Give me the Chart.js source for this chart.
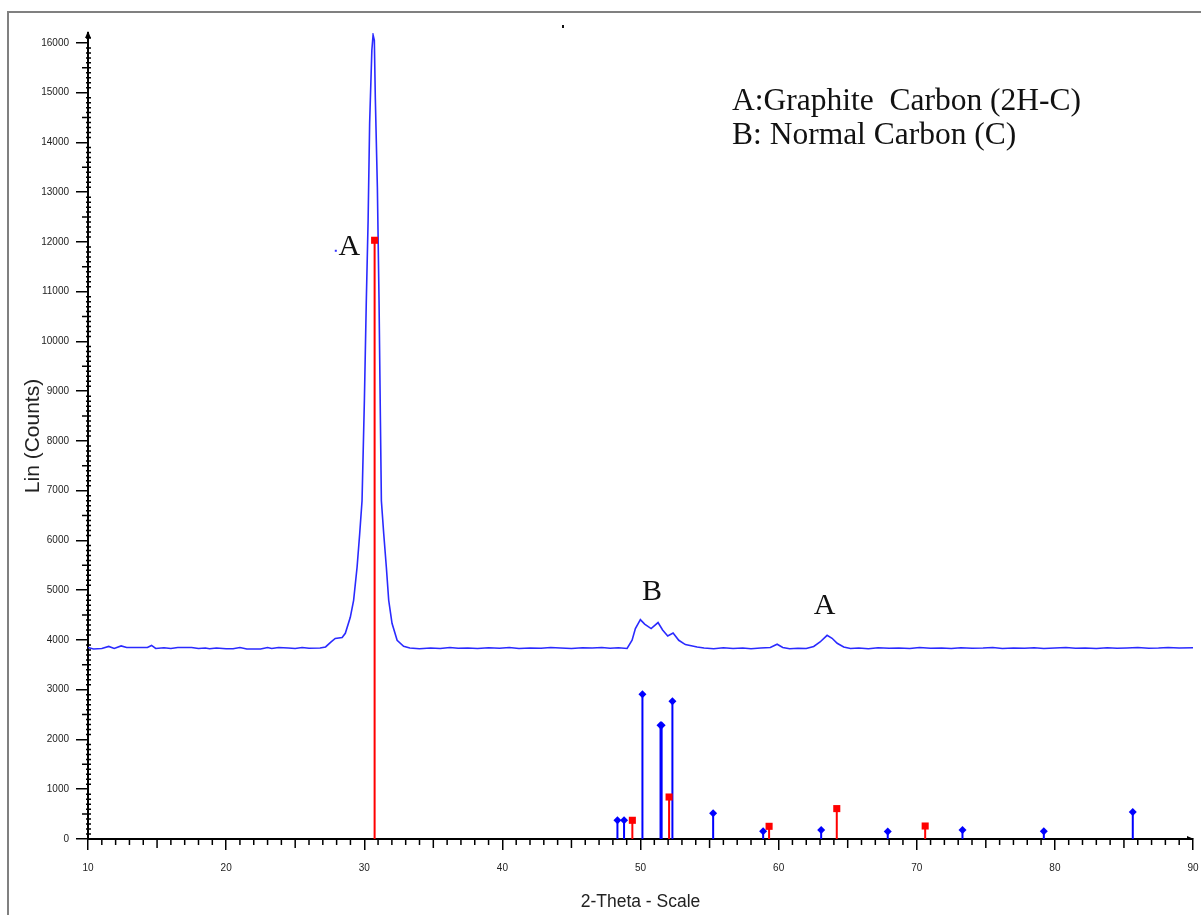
<!DOCTYPE html>
<html>
<head>
<meta charset="utf-8">
<script src="https://cdn.jsdelivr.net/npm/chart.js@4.4.0/dist/chart.umd.min.js"></script>
<style>
  body { margin: 0; background: #fff; }
  #wrap { position: relative; width: 1201px; height: 915px; overflow: hidden; }
  #frame { position: absolute; left: 7px; top: 11px; right: -10px; bottom: -10px;
           border-top: 2px solid #808080; border-left: 2px solid #808080; }
  canvas { position: absolute; left: 0; top: 0; }
</style>
</head>
<body>
<div id="wrap"><div id="frame"></div><canvas id="xrd" width="1201" height="915"></canvas></div>
<script>
// measured pattern, 2-theta (deg) vs counts
var thetaValues = [10.0, 10.4, 11.0, 11.5, 11.9, 12.4, 12.8, 13.5, 14.3, 14.6, 14.9, 15.5, 16.0, 16.5, 17.5, 18.0,
  18.5, 18.8, 19.3, 20.0, 20.5, 21.0, 21.5, 22.5, 23.0, 23.3, 23.8, 24.5, 25.0, 25.5, 26.0, 26.8,
  27.2, 27.6, 27.9, 28.4, 28.63, 28.99, 29.23, 29.48, 29.67, 29.84, 30.01, 30.15, 30.28, 30.39, 30.55, 30.64,
  30.73, 30.80, 30.95, 31.07, 31.17, 31.24, 31.41, 31.60, 31.77, 32.01, 32.38, 32.85, 33.3,
  34.0, 34.8, 35.5, 36.2, 36.8, 37.5, 38.2, 39.0, 39.8, 40.5, 41.2, 42.0, 42.8, 43.5, 44.2, 45.0,
  45.8, 46.5, 47.2, 47.8, 48.4, 49.03, 49.39, 49.63, 49.87, 49.99, 50.3, 50.77, 51.27, 51.6, 51.97, 52.36,
  52.77, 53.25, 54.1, 54.6, 55.3, 56.0, 56.7, 57.4, 58.0, 58.7, 59.4, 59.89, 60.3, 60.8, 61.4, 62.0,
  62.54, 63.0, 63.51, 63.87, 64.24, 64.71, 65.2, 65.8, 66.5, 67.2, 68.0, 68.7, 69.5, 70.2, 71.0, 71.8,
  72.5, 73.2, 74.0, 74.8, 75.5, 76.2, 77.0, 77.8, 78.5, 79.2, 80.0, 80.8, 81.5, 82.2, 83.0, 83.8,
  84.5, 85.2, 86.0, 86.8, 87.5, 88.2, 89.0, 90.0];
var countValues = [3850, 3820, 3830, 3870, 3830, 3880, 3850, 3850, 3850, 3890, 3830, 3845, 3830, 3850, 3850, 3830,
  3840, 3825, 3840, 3825, 3825, 3850, 3820, 3820, 3850, 3830, 3850, 3840, 3830, 3850, 3835, 3840,
  3860, 3960, 4030, 4050, 4135, 4456, 4798, 5461, 6135, 6798, 8817, 10828, 12436, 14385, 15853, 16160,
  16054, 14909, 13099, 10828, 8416, 6798, 6135, 5461, 4798, 4336, 3994, 3873, 3840,
  3825, 3840, 3830, 3850, 3835, 3840, 3830, 3845, 3835, 3850, 3830, 3840, 3835, 3850, 3840, 3830,
  3845, 3840, 3850, 3835, 3845, 3830, 3994, 4229, 4350, 4410, 4320, 4229, 4350, 4200, 4080, 4141,
  3994, 3908, 3859, 3840, 3825, 3845, 3830, 3840, 3825, 3840, 3850, 3914, 3850, 3825, 3835, 3830,
  3870, 3960, 4094, 4034, 3934, 3860, 3830, 3840, 3825, 3845, 3835, 3840, 3830, 3850, 3835, 3840,
  3830, 3845, 3835, 3840, 3850, 3830, 3840, 3835, 3845, 3830, 3840, 3850, 3835, 3840, 3830, 3845,
  3835, 3840, 3850, 3835, 3840, 3850, 3840, 3845];

// reference sticks
var blueStickPos = [48.33, 48.81, 50.14, 51.45, 51.53, 52.31, 55.26, 58.88, 63.08, 67.90, 73.31, 79.20, 85.64];
var blueStickInt = [376, 376, 2909, 2285, 2285, 2768, 517, 155, 181, 149, 181, 155, 543];
var redStickPos = [30.75, 49.41, 52.07, 59.31, 64.21, 70.61];
var redStickInt = [12034, 376, 844, 255, 611, 261];

var xTickLabels = [10, 20, 30, 40, 50, 60, 70, 80, 90];
var yTickLabels = [0, 1000, 2000, 3000, 4000, 5000, 6000, 7000, 8000, 9000, 10000, 11000, 12000, 13000, 14000, 15000, 16000];

var peakLabelText = ["A", "B", "A"];
var peakLabelX = [28.92, 50.84, 63.32];
var peakLabelY = [11733, 4798, 4531];

var legendLines = ["A:Graphite  Carbon (2H-C)", "B: Normal Carbon (C)"];

function pattern() {
  var d = [];
  for (var i = 0; i < thetaValues.length; i++) d.push({x: thetaValues[i], y: countValues[i]});
  return d;
}
function sticks(pos, val) {
  var d = [];
  for (var i = 0; i < pos.length; i++) {
    d.push({x: pos[i], y: 0}, {x: pos[i], y: val[i]}, {x: pos[i], y: null});
  }
  return d;
}
function topOnly(r) {
  return function (c) { return (c.raw && c.raw.y) ? r : 0; };
}

var decor = {
  id: "decor",
  afterDraw: function (chart) {
    var ctx = chart.ctx, xs = chart.scales.x, ys = chart.scales.y;
    ctx.save();
    ctx.strokeStyle = "#000";
    ctx.lineWidth = 1.5;
    ctx.beginPath();
    for (var t = 11; t < 90; t++) {
      if (t % 10 === 0) continue;
      var px = xs.getPixelForValue(t);
      ctx.moveTo(px, ys.bottom);
      ctx.lineTo(px, ys.bottom + (t % 5 === 0 ? 9 : 6));
    }
    for (var v = 100; v < 16200; v += 100) {
      if (v % 1000 === 0) continue;
      var py = ys.getPixelForValue(v);
      ctx.moveTo(xs.left - (v % 500 === 0 ? 6 : 2), py);
      ctx.lineTo(xs.left + 3, py);
    }
    ctx.stroke();

    // arrow heads at the axis ends
    ctx.fillStyle = "#000";
    ctx.beginPath();
    ctx.moveTo(xs.left, ys.top - 2);
    ctx.lineTo(xs.left - 3, ys.top + 5);
    ctx.lineTo(xs.left + 3, ys.top + 5);
    ctx.fill();
    ctx.beginPath();
    ctx.moveTo(xs.right + 1, ys.bottom);
    ctx.lineTo(xs.right - 6, ys.bottom - 3);
    ctx.lineTo(xs.right - 6, ys.bottom + 1);
    ctx.fill();

    // peak letters
    ctx.font = '30px "Liberation Serif"';
    ctx.fillStyle = "#111";
    ctx.textAlign = "center";
    ctx.textBaseline = "alphabetic";
    for (var i = 0; i < peakLabelText.length; i++) {
      ctx.fillText(peakLabelText[i], xs.getPixelForValue(peakLabelX[i]), ys.getPixelForValue(peakLabelY[i]));
    }
    ctx.fillStyle = "#3030ff";
    ctx.fillRect(xs.getPixelForValue(27.94) - 1, ys.getPixelForValue(11823) - 1, 2, 2);

    // legend text
    ctx.fillStyle = "#111";
    ctx.font = '31.5px "Liberation Serif"';
    ctx.textAlign = "left";
    ctx.fillText(legendLines[0], 732, 110);
    ctx.fillText(legendLines[1], 732, 144);
    ctx.fillRect(562, 25, 2, 3);
    ctx.restore();
  }
};

new Chart("xrd", {
  type: "line",
  data: {
    datasets: [
      {
        data: sticks(redStickPos, redStickInt),
        borderColor: "#ff0000",
        backgroundColor: "#ff0000",
        borderWidth: 2,
        pointStyle: "rect",
        pointRadius: topOnly(5),
        pointBorderWidth: 0,
        spanGaps: false
      },
      {
        data: sticks(blueStickPos, blueStickInt),
        borderColor: "#0000ff",
        backgroundColor: "#0000ff",
        borderWidth: 2,
        pointStyle: "rectRot",
        pointRadius: topOnly(4),
        pointBorderWidth: 0,
        spanGaps: false
      },
      {
        data: pattern(),
        borderColor: "#2a2aff",
        borderWidth: 1.6,
        pointRadius: 0,
        tension: 0
      }
    ]
  },
  options: {
    responsive: false,
    animation: false,
    devicePixelRatio: 1,
    layout: { padding: { top: 33, right: 8, left: 0, bottom: 0 } },
    plugins: { legend: { display: false }, tooltip: { enabled: false } },
    scales: {
      x: {
        type: "linear",
        min: 10,
        max: 90,
        afterBuildTicks: function (s) { s.ticks = xTickLabels.map(function (v) { return {value: v}; }); },
        afterFit: function (s) { s.height = 76; s.paddingLeft = 0; s.paddingRight = 0; },
        ticks: { font: { family: "Liberation Sans", size: 10 }, color: "#222", padding: 12, maxRotation: 0, autoSkip: false,
                 callback: function (v) { return String(v); } },
        grid: { drawOnChartArea: false, drawTicks: true, tickLength: 11, color: "#000", lineWidth: 1.5 },
        border: { color: "#000", width: 2 },
        title: { display: true, text: "2-Theta - Scale", color: "#222",
                 font: { family: "Liberation Sans", size: 17.5 }, padding: { top: 0, bottom: 2 } }
      },
      y: {
        min: 0,
        max: 16200,
        afterBuildTicks: function (s) { s.ticks = yTickLabels.map(function (v) { return {value: v}; }); },
        afterFit: function (s) { s.width = 88; },
        ticks: { font: { family: "Liberation Sans", size: 10 }, color: "#222", padding: 7,
                 callback: function (v) { return String(v); } },
        grid: { drawOnChartArea: false, drawTicks: true, tickLength: 12, color: "#000", lineWidth: 1.5 },
        border: { color: "#000", width: 2 },
        title: { display: true, text: "Lin (Counts)", color: "#222",
                 font: { family: "Liberation Sans", size: 21 }, padding: { top: 21, bottom: 0 } }
      }
    }
  },
  plugins: [decor]
});
</script>
</body>
</html>
